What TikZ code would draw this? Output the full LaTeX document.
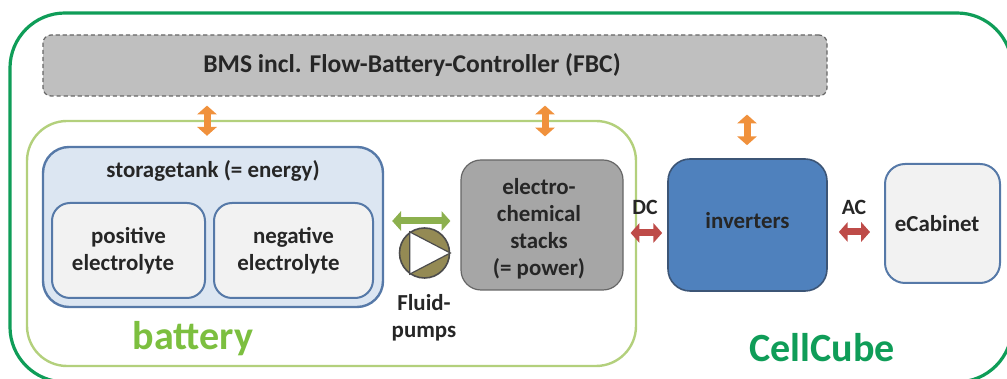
\documentclass[tikz,border=0pt]{standalone}
\usepackage{fontspec}
\setmainfont{Carlito}
\usetikzlibrary{arrows.meta}
\definecolor{cubegreen}{HTML}{0F9D58}
\definecolor{batgreen}{HTML}{B3D07C}
\definecolor{battext}{HTML}{7CBF3F}
\definecolor{tankblue}{HTML}{DCE6F2}
\definecolor{edgeblue}{HTML}{5679A8}
\definecolor{cellgray}{HTML}{F2F2F2}
\definecolor{invblue}{HTML}{4F81BD}
\definecolor{pumpolive}{HTML}{948A54}
\definecolor{arroworange}{HTML}{F0913C}
\definecolor{arrowred}{HTML}{BE4B48}
\definecolor{arrowgreen}{HTML}{8CB04E}
\definecolor{labelgray}{HTML}{262626}
\tikzset{
	box/.style={rectangle,inner sep=0pt,align=center,text=labelgray,font=\bfseries\fontsize{16.3}{19.2}\selectfont},
	cellbox/.style={box,draw=edgeblue,line width=.05cm,fill=cellgray,rounded corners=.45cm},
	label/.style={inner sep=0pt,align=center,text=labelgray,font=\bfseries\fontsize{16.3}{19.2}\selectfont},
	bigword/.style={inner sep=0pt,font=\bfseries\fontsize{28.5}{30}\selectfont},
	fatarrow/.style={line width=.175cm,{Triangle[width=.48cm,length=.22cm]}-{Triangle[width=.48cm,length=.22cm]}}
}
\begin{document}
\begin{tikzpicture}
	\path[use as bounding box,clip] (0,0) rectangle (25.175,9.475);

	\node (cellcube) [box,draw=cubegreen,line width=.08cm,rounded corners=1.375cm,minimum width=25.05cm,minimum height=9.225cm] at (12.775,4.5375) {};
	\node (battery)  [box,draw=batgreen,line width=.06cm,rounded corners=1cm,minimum width=15.225cm,minimum height=6.125cm] at (8.2875,3.3875) {};

	\node (bms)   [box,draw=black!60,densely dashed,line width=.03cm,fill=black!25,rounded corners=.2cm,minimum width=19.6cm,minimum height=1.525cm] at (10.875,7.8375) {};
	\node (bmstext) [label,font=\bfseries\fontsize{18.2}{20}\selectfont] at (10.3,7.85) {BMS incl. Flow-Battery-Controller (FBC)};

	\node (tank)  [box,draw=edgeblue,line width=.06cm,fill=tankblue,rounded corners=.65cm,minimum width=8.5cm,minimum height=4cm] at (5.325,3.8) {};
	\node (tanktext) [label] at (5.325,5.19) {storagetank (= energy)};
	\node (pos)   [cellbox,minimum width=3.825cm,minimum height=2.375cm] at (3.2125,3.2125) {positive\\electrolyte\hspace*{.27cm}};
	\node (neg)   [cellbox,minimum width=3.975cm,minimum height=2.375cm] at (7.3375,3.2125) {negative\\electrolyte\hspace*{.25cm}};

	\node (stacks) [box,draw=black!60,line width=.03cm,fill=black!35,rounded corners=.5cm,minimum width=4.05cm,minimum height=3.25cm] at (13.55,3.85) {};
	\node (stackstext) [label] at (13.475,3.75) {electro-\\chemical\\stacks\\(= power)};
	\node (inv)   [box,draw=edgeblue!70!black,line width=.04cm,fill=invblue,rounded corners=.55cm,minimum width=3.975cm,minimum height=3.3cm] at (18.6875,3.85) {};
	\node (invtext) [label,text=black!85] at (18.6875,3.95) {inverters};
	\node (ecab)  [cellbox,minimum width=2.875cm,minimum height=2.975cm,rounded corners=.5cm] at (23.5625,3.8875) {eCabinet\hspace*{.27cm}};

	\node (pump)  [circle,draw=black!70,line width=.04cm,fill=pumpolive,inner sep=0pt,minimum size=1.25cm] at (10.6125,3.15) {};
	\draw [draw=black!70,line width=.03cm,fill=white] (pump.east) -- (pump.125) -- (pump.-125) -- cycle;

	\node (pumptext) [label] at (10.6,1.525) {Fluid-\\pumps};
	\node (dc)    [label,font=\bfseries\fontsize{15.5}{18}\selectfont] at (16.125,4.3) {DC};
	\node (ac)    [label,font=\bfseries\fontsize{15.5}{18}\selectfont] at (21.35,4.3) {AC};
	\node (battext)  [bigword,text=battext] at (4.825,1.0) {battery};
	\node (cubetext) [bigword,text=cubegreen] at (20.55,.775) {CellCube};

	\coordinate (linka) at (5.175,5);
	\coordinate (linkb) at (13.625,5);
	\coordinate (linkc) at (18.675,5);
	\coordinate (flow) at (10,3.95);
	\coordinate (dclink) at (16,3.65);
	\coordinate (aclink) at (21,3.675);

	\draw [fatarrow,arroworange,shorten <=.225cm,shorten >=.25cm] (bms.south -| linka) -- (tank.north -| linka);
	\draw [fatarrow,arroworange,shorten <=.225cm,shorten >=.575cm] (bms.south -| linkb) -- (stacks.north -| linkb);
	\draw [fatarrow,arroworange,shorten <=.45cm,shorten >=.325cm] (bms.south -| linkc) -- (inv.north -| linkc);
	\draw [fatarrow,arrowgreen,shorten <=.2cm,shorten >=.25cm] (tank.east |- flow) -- (stacks.west |- flow);
	\draw [fatarrow,arrowred,shorten <=.175cm,shorten >=.125cm] (stacks.east |- dclink) -- (inv.west |- dclink);
	\draw [fatarrow,arrowred,shorten <=.275cm,shorten >=.35cm] (inv.east |- aclink) -- (ecab.west |- aclink);
\end{tikzpicture}
\end{document}
